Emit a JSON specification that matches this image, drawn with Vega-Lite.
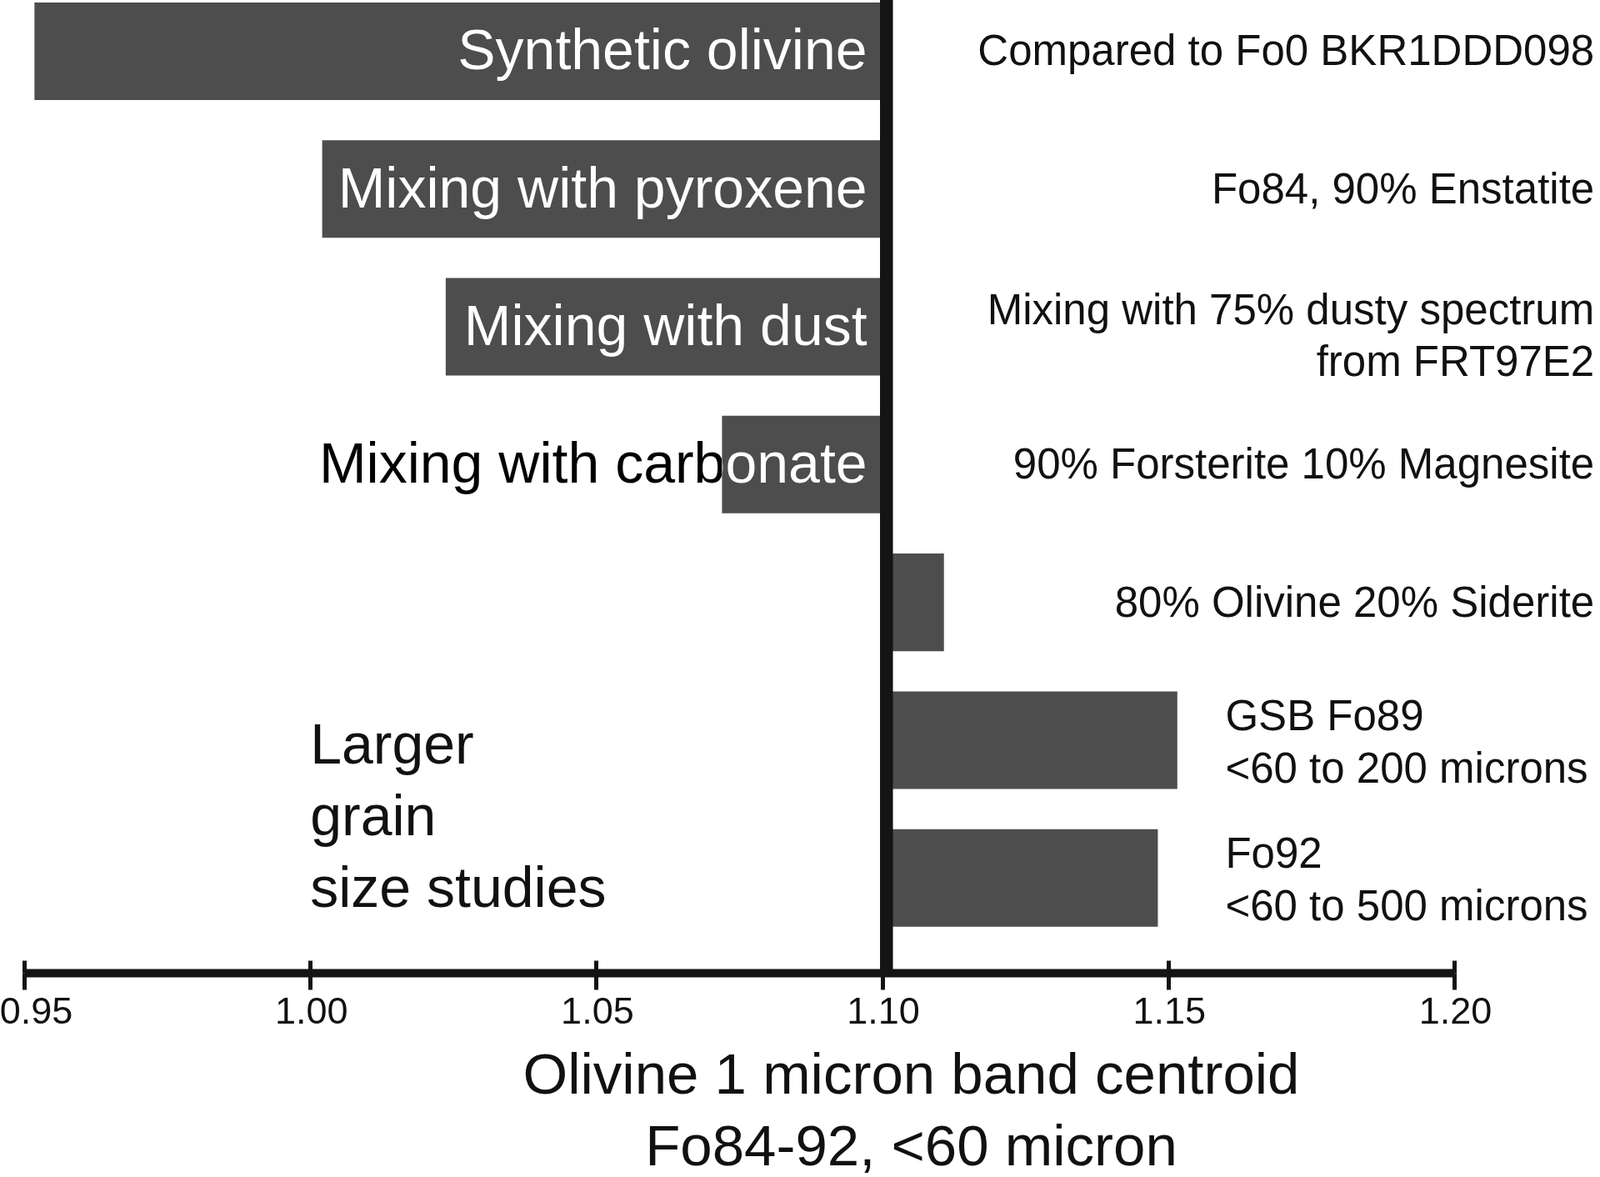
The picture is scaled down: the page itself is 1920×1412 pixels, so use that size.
{
  "$schema": "https://vega.github.io/schema/vega-lite/v6.json",
  "width": 1716,
  "height": 1167,
  "autosize": {"type": "none"},
  "padding": {"left": 29, "top": 0, "right": 175, "bottom": 245},
  "background": "white",
  "config": {
    "view": {"stroke": null},
    "font": "Liberation Sans"
  },
  "data": {
    "values": [
      {"sample": "Fo0 BKR1DDD098", "label": "Synthetic olivine", "note": "Compared to Fo0 BKR1DDD098", "study": "mixing", "centroid": 0.9518},
      {"sample": "Fo84 + Enstatite", "label": "Mixing with pyroxene", "note": "Fo84, 90% Enstatite", "study": "mixing", "centroid": 1.0021},
      {"sample": "Dusty FRT97E2", "label": "Mixing with dust", "note": ["Mixing with 75% dusty spectrum", "from FRT97E2"], "study": "mixing", "centroid": 1.0237},
      {"sample": "Forsterite + Magnesite", "label": "Mixing with carbonate", "note": "90% Forsterite 10% Magnesite", "study": "mixing", "centroid": 1.0720},
      {"sample": "Olivine + Siderite", "label": "", "note": "80% Olivine 20% Siderite", "study": "mixing", "centroid": 1.1108},
      {"sample": "GSB Fo89", "label": "", "note": ["GSB Fo89", "<60 to 200 microns"], "study": "grain size", "centroid": 1.1516},
      {"sample": "Fo92", "label": "", "note": ["Fo92", "<60 to 500 microns"], "study": "grain size", "centroid": 1.1482}
    ]
  },
  "layer": [
    {
      "mark": {"type": "bar", "color": "#4d4d4d"},
      "encoding": {
        "y": {"field": "sample", "type": "nominal", "sort": null, "axis": null,
              "scale": {"paddingInner": 0.292, "paddingOuter": 0.176, "align": 0.05}},
        "x": {"field": "centroid", "type": "quantitative",
              "scale": {"domain": [0.95, 1.2], "nice": false, "zero": false},
              "axis": {
                "orient": "bottom",
                "values": [0.95, 1.0, 1.05, 1.1, 1.15, 1.2],
                "format": ".2f",
                "grid": false,
                "domain": true, "domainColor": "#141414", "domainWidth": 10,
                "ticks": true, "tickColor": "#141414", "tickWidth": 5, "tickSize": 20,
                "labelFontSize": 45, "labelColor": "#111", "labelPadding": 4,
                "labelFlush": false,
                "labelOffset": {"condition": {"test": "datum.value < 0.96", "value": 14}, "value": 1},
                "title": ["Olivine 1 micron band centroid", "Fo84-92, <60 micron"],
                "titleFontSize": 69, "titleFontWeight": "normal", "titleColor": "#111",
                "titleLineHeight": 86, "titleAlign": "center", "titleBaseline": "top",
                "titleX": 1064, "titleY": 89
              }},
        "x2": {"datum": 1.1}
      }
    },
    {
      "mark": {"type": "rule", "color": "#141414", "strokeWidth": 15, "xOffset": 5},
      "encoding": {
        "x": {"datum": 1.1, "type": "quantitative",
              "scale": {"domain": [0.95, 1.2], "nice": false, "zero": false},
              "axis": {
                "orient": "bottom", "offset": -15,
                "values": [0.95, 1.0, 1.05, 1.1, 1.15, 1.2],
                "grid": false, "domain": false, "labels": false, "title": null,
                "ticks": true, "tickColor": "#141414", "tickWidth": 5, "tickSize": 15
              }}
      }
    },
    {
      "transform": [{"filter": "datum.label != ''"}],
      "mark": {"type": "text", "align": "right", "baseline": "middle", "dx": -18, "dy": 2, "fontSize": 68, "color": "white", "blend": "difference"},
      "encoding": {
        "y": {"field": "sample", "type": "nominal", "sort": null, "axis": null},
        "x": {"datum": 1.1, "type": "quantitative", "scale": {"domain": [0.95, 1.2], "nice": false, "zero": false}, "axis": null},
        "text": {"field": "label"}
      }
    },
    {
      "transform": [{"filter": "datum.label != ''"}],
      "mark": {"type": "text", "align": "right", "baseline": "middle", "dx": -18, "dy": 2, "fontSize": 68, "color": "#525252", "blend": "color-dodge"},
      "encoding": {
        "y": {"field": "sample", "type": "nominal", "sort": null, "axis": null},
        "x": {"datum": 1.1, "type": "quantitative", "scale": {"domain": [0.95, 1.2], "nice": false, "zero": false}, "axis": null},
        "text": {"field": "label"}
      }
    },
    {
      "transform": [{"filter": "datum.study == 'mixing' && !isArray(datum.note)"}],
      "mark": {"type": "text", "align": "right", "baseline": "middle", "dy": 2, "fontSize": 51, "color": "#111"},
      "encoding": {
        "y": {"field": "sample", "type": "nominal", "sort": null, "axis": null},
        "x": {"datum": 1.2245, "type": "quantitative", "scale": {"domain": [0.95, 1.2], "nice": false, "zero": false}, "axis": null},
        "text": {"field": "note"}
      }
    },
    {
      "transform": [{"filter": "datum.study == 'mixing' && isArray(datum.note)"}],
      "mark": {"type": "text", "align": "right", "baseline": "middle", "dy": -18, "fontSize": 51, "lineHeight": 62, "color": "#111"},
      "encoding": {
        "y": {"field": "sample", "type": "nominal", "sort": null, "axis": null},
        "x": {"datum": 1.2245, "type": "quantitative", "scale": {"domain": [0.95, 1.2], "nice": false, "zero": false}, "axis": null},
        "text": {"field": "note"}
      }
    },
    {
      "transform": [{"filter": "datum.study == 'grain size'"}],
      "mark": {"type": "text", "align": "left", "baseline": "middle", "dy": -27, "fontSize": 51, "lineHeight": 63, "color": "#111"},
      "encoding": {
        "y": {"field": "sample", "type": "nominal", "sort": null, "axis": null},
        "x": {"datum": 1.16, "type": "quantitative", "scale": {"domain": [0.95, 1.2], "nice": false, "zero": false}, "axis": null},
        "text": {"field": "note"}
      }
    },
    {
      "data": {"values": [{"group": ["Larger", "grain", "size studies"]}]},
      "mark": {"type": "text", "align": "left", "baseline": "middle", "fontSize": 68, "lineHeight": 86, "dy": 8, "color": "#111"},
      "encoding": {
        "y": {"datum": "GSB Fo89", "type": "nominal", "axis": null},
        "x": {"datum": 1.0, "type": "quantitative", "scale": {"domain": [0.95, 1.2], "nice": false, "zero": false}, "axis": null},
        "text": {"field": "group"}
      }
    }
  ],
  "resolve": {"axis": {"x": "independent"}}
}
